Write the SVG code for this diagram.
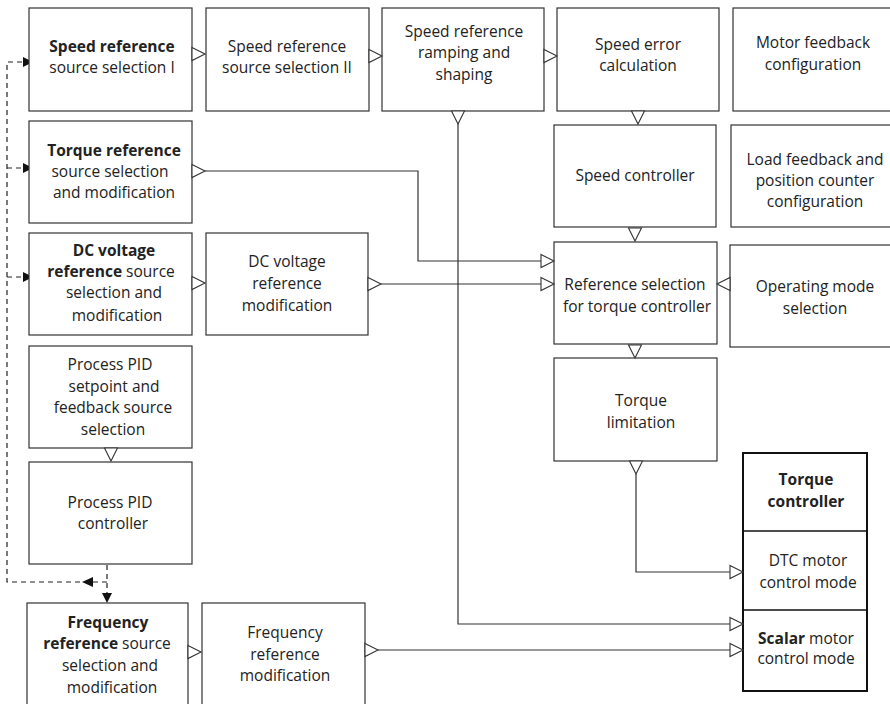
<svg xmlns="http://www.w3.org/2000/svg" width="890" height="704" viewBox="0 0 890 704">
<style>
.box{fill:#fff;stroke:#333;stroke-width:1.2}
.tc{fill:#fff;stroke:#111;stroke-width:2}
.t{font-family:"Open Sans","Noto Sans",sans-serif;font-size:15.5px;fill:#222;text-anchor:middle}
.b{font-weight:bold}
.ln{fill:none;stroke:#333;stroke-width:1.2}
.dl{fill:none;stroke:#222;stroke-width:1.2;stroke-dasharray:5,4}
.tri{fill:#fff;stroke:#333;stroke-width:1.1}
.fa{fill:#111}
</style>
<defs>
<path id="tr" class="tri" d="M0,-6.5 L13,0 L0,6.5 Z"/>
</defs>
<rect width="890" height="704" fill="#fff"/>

<g id="connectors">
<path class="ln" d="M205,171 H418 V261 H541"/>
<path class="ln" d="M381,284 H541"/>
<path class="ln" d="M458,124 V624 H730"/>
<path class="ln" d="M636,474 V572 H730"/>
<path class="ln" d="M378,650 H730"/>
<path class="dl" d="M107,565 V594"/>
<path class="dl" d="M107,582 H7 V62 H23"/>
<path class="dl" d="M7,168 H23"/>
<path class="dl" d="M7,277 H23"/>
<polygon class="fa" points="23,57 33,62 23,67"/>
<polygon class="fa" points="23,163 33,168 23,173"/>
<polygon class="fa" points="23,272 33,277 23,282"/>
<polygon class="fa" points="93,577 82,582 93,587"/>
<polygon class="fa" points="102,593 107,603 112,593"/>
</g>

<g id="n-sp1"><rect class="box" x="29" y="8" width="163" height="103"/>
<text class="t" x="112" y="52"><tspan class="b">Speed reference</tspan></text>
<text class="t" x="112" y="73">source selection I</text></g>

<g id="n-sp2"><rect class="box" x="206" y="8" width="163" height="103"/>
<text class="t" x="287" y="52">Speed reference</text>
<text class="t" x="287" y="73">source selection II</text></g>

<g id="n-ramp"><rect class="box" x="382" y="8" width="162" height="103"/>
<text class="t" x="464" y="37">Speed reference</text>
<text class="t" x="464" y="58">ramping and</text>
<text class="t" x="464" y="80">shaping</text></g>

<g id="n-err"><rect class="box" x="557" y="8" width="162" height="103"/>
<text class="t" x="638" y="50">Speed error</text>
<text class="t" x="638" y="71">calculation</text></g>

<g id="n-motor"><rect class="box" x="733" y="8" width="165" height="103"/>
<text class="t" x="813" y="48">Motor feedback</text>
<text class="t" x="813" y="70">configuration</text></g>

<g id="n-tq"><rect class="box" x="29" y="121" width="163" height="102"/>
<text class="t" x="114" y="156"><tspan class="b">Torque reference</tspan></text>
<text class="t" x="110" y="177">source selection</text>
<text class="t" x="114" y="198">and modification</text></g>

<g id="n-spc"><rect class="box" x="554" y="125" width="162" height="102"/>
<text class="t" x="635" y="181">Speed controller</text></g>

<g id="n-load"><rect class="box" x="731" y="125" width="165" height="102"/>
<text class="t" x="815" y="165">Load feedback and</text>
<text class="t" x="815" y="186">position counter</text>
<text class="t" x="815" y="207">configuration</text></g>

<g id="n-dc"><rect class="box" x="29" y="233" width="163" height="102"/>
<text class="t" x="114" y="256"><tspan class="b">DC voltage</tspan></text>
<text class="t" x="111" y="277"><tspan class="b">reference</tspan> source</text>
<text class="t" x="114" y="298">selection and</text>
<text class="t" x="117" y="321">modification</text></g>

<g id="n-dcm"><rect class="box" x="206" y="233" width="162" height="102"/>
<text class="t" x="287" y="267">DC voltage</text>
<text class="t" x="287" y="289">reference</text>
<text class="t" x="287" y="311">modification</text></g>

<g id="n-refsel"><rect class="box" x="554" y="242" width="163" height="102"/>
<text class="t" x="635" y="290">Reference selection</text>
<text class="t" x="637" y="312">for torque controller</text></g>

<g id="n-opm"><rect class="box" x="730" y="245" width="165" height="102"/>
<text class="t" x="815" y="292">Operating mode</text>
<text class="t" x="815" y="314">selection</text></g>

<g id="n-tlim"><rect class="box" x="554" y="358" width="163" height="103"/>
<text class="t" x="641" y="406">Torque</text>
<text class="t" x="641" y="428">limitation</text></g>

<g id="n-pidsp"><rect class="box" x="29" y="346" width="163" height="102"/>
<text class="t" x="110" y="370">Process PID</text>
<text class="t" x="114" y="392">setpoint and</text>
<text class="t" x="113" y="413">feedback source</text>
<text class="t" x="113" y="435">selection</text></g>

<g id="n-pidc"><rect class="box" x="29" y="462" width="163" height="102"/>
<text class="t" x="110" y="508">Process PID</text>
<text class="t" x="113" y="529">controller</text></g>

<g id="n-fr"><rect class="box" x="27" y="603" width="161" height="110"/>
<text class="t" x="108" y="628"><tspan class="b">Frequency</tspan></text>
<text class="t" x="107" y="649"><tspan class="b">reference</tspan> source</text>
<text class="t" x="110" y="671">selection and</text>
<text class="t" x="112" y="693">modification</text></g>

<g id="n-frm"><rect class="box" x="202" y="603" width="163" height="110"/>
<text class="t" x="285" y="638">Frequency</text>
<text class="t" x="285" y="660">reference</text>
<text class="t" x="285" y="681">modification</text></g>

<g id="n-tc"><rect class="tc" x="743" y="453" width="124" height="238"/>
<line x1="743" y1="531" x2="867" y2="531" stroke="#111" stroke-width="1.6"/>
<line x1="743" y1="610" x2="867" y2="610" stroke="#111" stroke-width="1.6"/>
<text class="t b" x="806" y="485">Torque</text>
<text class="t b" x="806" y="507">controller</text>
<text class="t" x="808" y="566">DTC motor</text>
<text class="t" x="808" y="588">control mode</text>
<text class="t" x="806" y="644"><tspan class="b">Scalar</tspan> motor</text>
<text class="t" x="806" y="664">control mode</text></g>

<g id="arrowheads">
<use href="#tr" transform="translate(192,54)"/>
<use href="#tr" transform="translate(369,56)"/>
<use href="#tr" transform="translate(544,56)"/>
<use href="#tr" transform="translate(192,171)"/>
<use href="#tr" transform="translate(541,261)"/>
<use href="#tr" transform="translate(192,283)"/>
<use href="#tr" transform="translate(368,284)"/>
<use href="#tr" transform="translate(541,284)"/>
<use href="#tr" transform="translate(188,652)"/>
<use href="#tr" transform="translate(365,650)"/>
<use href="#tr" transform="translate(730,572)"/>
<use href="#tr" transform="translate(730,624)"/>
<use href="#tr" transform="translate(730,650)"/>
<use href="#tr" transform="translate(730,284) rotate(180)"/>
<use href="#tr" transform="translate(458,111) rotate(90)"/>
<use href="#tr" transform="translate(638,111) rotate(90)"/>
<use href="#tr" transform="translate(635,228) rotate(90)"/>
<use href="#tr" transform="translate(635,345) rotate(90)"/>
<use href="#tr" transform="translate(636,461) rotate(90)"/>
<use href="#tr" transform="translate(111,448) rotate(90)"/>
</g>
</svg>
